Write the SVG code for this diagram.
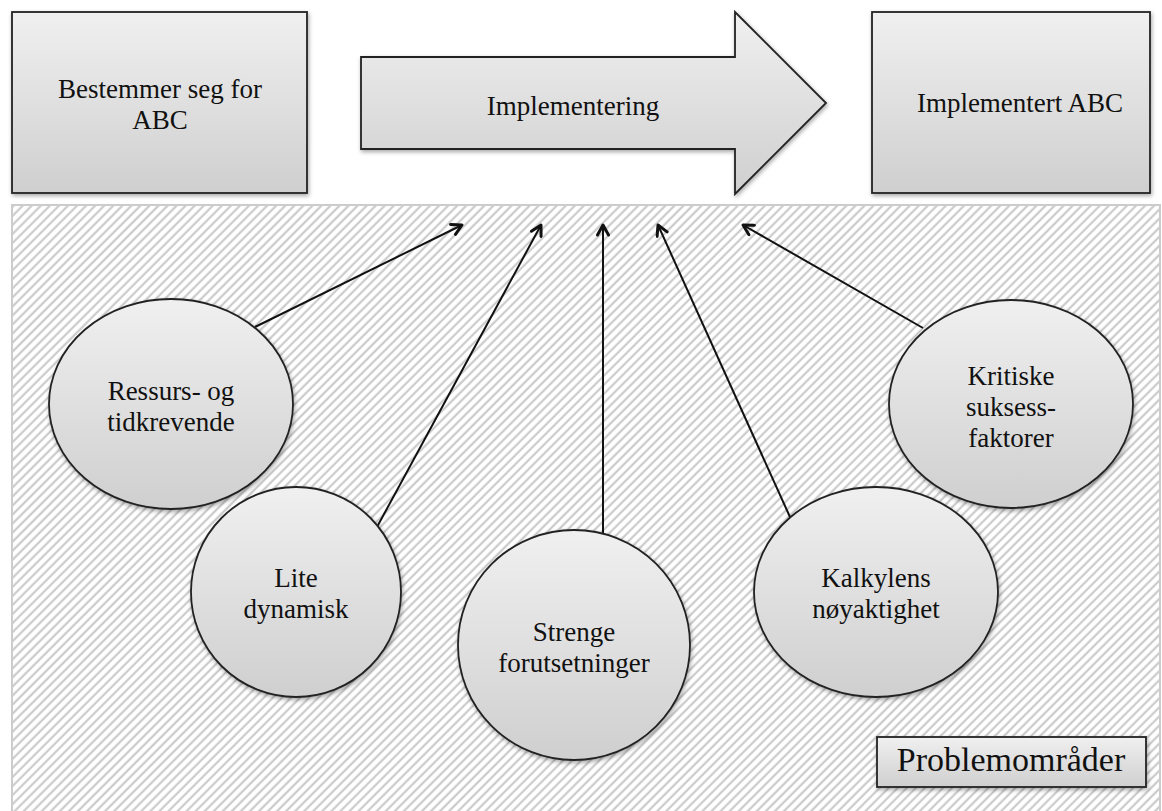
<svg xmlns="http://www.w3.org/2000/svg" width="1162" height="811" viewBox="0 0 1162 811">
<defs>
<linearGradient id="gfill" x1="0" y1="0" x2="0" y2="1">
<stop offset="0" stop-color="#f0f0f0"/>
<stop offset="1" stop-color="#cfcfcf"/>
</linearGradient>
<pattern id="hatch" width="6.4" height="20" patternUnits="userSpaceOnUse" patternTransform="rotate(45)">
<rect width="6.4" height="20" fill="#ffffff"/>
<line x1="1.5" y1="0" x2="1.5" y2="20" stroke="#c6c6c6" stroke-width="2"/>
</pattern>
<filter id="shadow" x="-10%" y="-10%" width="125%" height="130%">
<feDropShadow dx="1" dy="2" stdDeviation="2" flood-color="#000" flood-opacity="0.35"/>
</filter>
<marker id="open" viewBox="0 0 14 14" refX="12" refY="7" markerWidth="14" markerHeight="14" markerUnits="userSpaceOnUse" orient="auto">
<path d="M2,1.5 L12,7 L2,12.5" fill="none" stroke="#111" stroke-width="3" stroke-linecap="round" stroke-linejoin="round"/>
</marker>
<style>
.node{fill:url(#gfill);stroke:#222;stroke-width:1.8;filter:url(#shadow)}
.lbl{font-family:"Liberation Serif","Times New Roman",serif;font-size:27px;fill:#111;text-anchor:middle}
.conn{stroke:#111;stroke-width:2;fill:none;marker-end:url(#open)}
</style>
</defs>
<rect width="1162" height="811" fill="#ffffff"/>
<g id="area">
<rect x="12" y="205" width="1148" height="615" fill="url(#hatch)" stroke="#cccccc" stroke-width="2"/>
</g>
<g id="n-bestemmer">
<rect class="node" x="12" y="12" width="295" height="181"/>
<text class="lbl" x="160" y="98">Bestemmer seg for</text>
<text class="lbl" x="160" y="129">ABC</text>
</g>
<g id="n-implementering">
<path class="node" d="M361,57 L735,57 L735,12 L826,103 L735,194 L735,149 L361,149 Z"/>
<text class="lbl" x="573" y="115">Implementering</text>
</g>
<g id="n-implementert">
<rect class="node" x="872" y="12" width="278" height="181"/>
<text class="lbl" x="1020" y="112">Implementert ABC</text>
</g>
<g id="connectors">
<line class="conn" x1="255" y1="327" x2="462" y2="225"/>
<line class="conn" x1="377" y1="527" x2="541" y2="225"/>
<line class="conn" x1="603" y1="535" x2="603" y2="225"/>
<line class="conn" x1="790" y1="517" x2="658" y2="225"/>
<line class="conn" x1="923" y1="328" x2="743" y2="225"/>
</g>
<g id="n-ressurs">
<ellipse class="node" cx="171" cy="404" rx="122" ry="105"/>
<text class="lbl" x="171" y="400">Ressurs- og</text>
<text class="lbl" x="171" y="431">tidkrevende</text>
</g>
<g id="n-lite">
<ellipse class="node" cx="296" cy="592" rx="105" ry="105"/>
<text class="lbl" x="296" y="587">Lite</text>
<text class="lbl" x="296" y="618">dynamisk</text>
</g>
<g id="n-strenge">
<ellipse class="node" cx="574" cy="645" rx="116" ry="115"/>
<text class="lbl" x="574" y="641">Strenge</text>
<text class="lbl" x="574" y="672">forutsetninger</text>
</g>
<g id="n-kalkylens">
<ellipse class="node" cx="876" cy="592" rx="122" ry="105"/>
<text class="lbl" x="876" y="587">Kalkylens</text>
<text class="lbl" x="876" y="618">nøyaktighet</text>
</g>
<g id="n-kritiske">
<ellipse class="node" cx="1011" cy="404" rx="122" ry="104"/>
<text class="lbl" x="1011" y="385">Kritiske</text>
<text class="lbl" x="1011" y="416">suksess-</text>
<text class="lbl" x="1011" y="447">faktorer</text>
</g>
<g id="n-problem">
<rect class="node" x="877" y="737" width="269" height="50"/>
<text class="lbl" x="1011" y="771" style="font-size:34px">Problemområder</text>
</g>
</svg>
